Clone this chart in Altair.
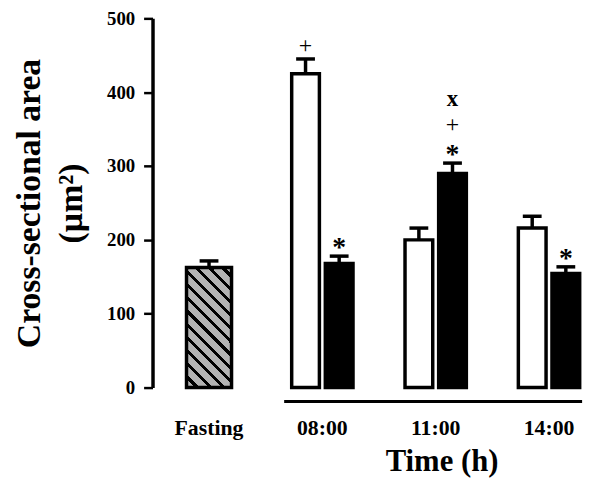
import altair as alt
import pandas as pd

# ---------------- data ----------------
groups = ["Fasting", "08:00", "11:00", "14:00"]
time_groups = ["08:00", "11:00", "14:00"]
conditions = ["open", "filled"]

fasting_mean = [162.5]
fasting_se = [9]

open_mean = [425, 200, 216]
open_se = [20, 16, 16]
filled_mean = [168, 290, 154.5]
filled_se = [10, 14, 9]

anno_group = ["08:00", "08:00", "11:00", "11:00", "11:00", "14:00"]
anno_cond = ["open", "filled", "filled", "filled", "filled", "filled"]
anno_symbol = ["+", "*", "*", "+", "x", "*"]
anno_level = [0, 0, 0, 1, 2, 0]

y_ticks = [0, 100, 200, 300, 400, 500]

# ---------------- tables ----------------
fast_df = pd.DataFrame({"group": ["Fasting"], "mean": fasting_mean, "se": fasting_se})
fast_df["upper"] = fast_df["mean"] + fast_df["se"]

rows = []
for i, g in enumerate(time_groups):
    rows.append({"group": g, "cond": "open", "mean": open_mean[i], "se": open_se[i]})
    rows.append({"group": g, "cond": "filled", "mean": filled_mean[i], "se": filled_se[i]})
pair_df = pd.DataFrame(rows)
pair_df["upper"] = pair_df["mean"] + pair_df["se"]

anno_df = pd.DataFrame({"group": anno_group, "cond": anno_cond,
                        "symbol": anno_symbol, "level": anno_level})
anno_df = anno_df.merge(pair_df[["group", "cond", "upper"]], on=["group", "cond"])

FONT = "Liberation Serif"

# ---------------- scales / axes ----------------
x_scale = alt.Scale(domain=groups, paddingInner=0.441, paddingOuter=0.1245, align=0.88)
xoff_scale = alt.Scale(domain=conditions, paddingInner=0.176, paddingOuter=0.03)
y_scale = alt.Scale(domain=[0, 500], nice=False)

x_axis = alt.Axis(title="Time (h)", domain=False, ticks=False, grid=False, labelAngle=0,
                  labelFont=FONT, labelFontWeight="bold", labelFontSize=22,
                  labelPadding=30, labelColor="black",
                  titleFont=FONT, titleFontWeight="bold", titleFontSize=31,
                  titleColor="black", titleX=292, titleY=84,
                  titleBaseline="alphabetic", titleAlign="center")

Y_TITLE = ["Cross-sectional area", "(µm²)"]
y_axis = alt.Axis(values=y_ticks, title=Y_TITLE, grid=False,
                  domainColor="black", domainWidth=3.5, tickColor="black", tickWidth=2.5,
                  tickSize=9, labelFont=FONT, labelFontSize=19, labelFontWeight="bold",
                  labelPadding=9, labelColor="black",
                  titleFont=FONT, titleFontSize=34, titleFontWeight="bold",
                  titleColor="black", titleX=-107, titleY=186.5, titleBaseline="bottom",
                  titleAlign="center", titleAngle=270, titleLineHeight=42)

x_enc = alt.X("group:N", scale=x_scale, axis=x_axis, sort=groups)
xo_enc = alt.XOffset("cond:N", scale=xoff_scale, sort=conditions)


def y_enc(field):
    return alt.Y(f"{field}:Q", scale=y_scale, axis=y_axis, title=Y_TITLE)


# hatch fill as a striped linear gradient
period = 0.0799
black_frac = 0.32
stops = []
k = 0
while k * period < 1:
    s = k * period
    m = min(s + period * (1 - black_frac), 1)
    e = min(s + period, 1)
    stops.append(alt.GradientStop(offset=s, color="#b3b3b3"))
    stops.append(alt.GradientStop(offset=m, color="#b3b3b3"))
    stops.append(alt.GradientStop(offset=m, color="black"))
    stops.append(alt.GradientStop(offset=e, color="black"))
    k += 1
hatch = alt.LinearGradient(gradient="linear", stops=stops,
                           x1=0, y1=1, x2=0.453, y2=-0.2056)

SW = 3.5

fast_bar = alt.Chart(fast_df).mark_bar(width=45.5, fill=hatch, stroke="black",
                                       strokeWidth=SW).encode(x=x_enc, y=y_enc("mean"))
fast_stem = alt.Chart(fast_df).mark_rule(color="black", strokeWidth=SW).encode(
    x=x_enc, y=y_enc("mean"), y2="upper:Q")
fast_cap = alt.Chart(fast_df).mark_tick(color="black", size=19, thickness=SW,
                                        orient="horizontal", opacity=1).encode(
    x=x_enc, y=y_enc("upper"))

pair_bar = alt.Chart(pair_df).mark_bar(stroke="black", strokeWidth=SW, opacity=1).encode(
    x=x_enc, xOffset=xo_enc, y=y_enc("mean"),
    fill=alt.Fill("cond:N", scale=alt.Scale(domain=conditions, range=["white", "black"]),
                  legend=None))
pair_stem = alt.Chart(pair_df).mark_rule(color="black", strokeWidth=SW).encode(
    x=x_enc, xOffset=xo_enc, y=y_enc("mean"), y2="upper:Q")
pair_cap = alt.Chart(pair_df).mark_tick(color="black", size=19, thickness=SW,
                                        orient="horizontal", opacity=1).encode(
    x=x_enc, xOffset=xo_enc, y=y_enc("upper"))

anno_base = alt.Chart(anno_df).transform_calculate(
    ypos="datum.upper + datum.level * 33.5")

star = anno_base.transform_filter("datum.symbol == '*'").mark_text(
    font=FONT, fontSize=28, fontWeight="bold", color="black", dy=0,
    baseline="alphabetic").encode(x=x_enc, xOffset=xo_enc, y=y_enc("ypos"),
                                  text="symbol:N")
plus = anno_base.transform_filter("datum.symbol == '+'").mark_text(
    font=FONT, fontSize=24, fontWeight="normal", color="black", dy=-6,
    baseline="alphabetic").encode(x=x_enc, xOffset=xo_enc, y=y_enc("ypos"),
                                  text="symbol:N")
xmark = anno_base.transform_filter("datum.symbol == 'x'").mark_text(
    font=FONT, fontSize=23, fontWeight="bold", color="black", dy=-8,
    baseline="alphabetic").encode(x=x_enc, xOffset=xo_enc, y=y_enc("ypos"),
                                  text="symbol:N")

line = alt.Chart(pd.DataFrame({"a": [0]})).mark_rule(color="black", strokeWidth=3).encode(
    x=alt.value(133), x2=alt.value(434), y=alt.value(387))

chart = alt.layer(fast_bar, fast_stem, fast_cap, pair_stem, pair_cap, pair_bar,
                  star, plus, xmark, line).properties(
    width=436, height=373,
    autosize=alt.AutoSizeParams(type="none"),
    padding={"left": 146, "top": 8, "right": 8, "bottom": 100},
    background="white",
).configure_view(stroke=None)

chart.save("out.html", embed_options={"renderer": "svg", "actions": False})
